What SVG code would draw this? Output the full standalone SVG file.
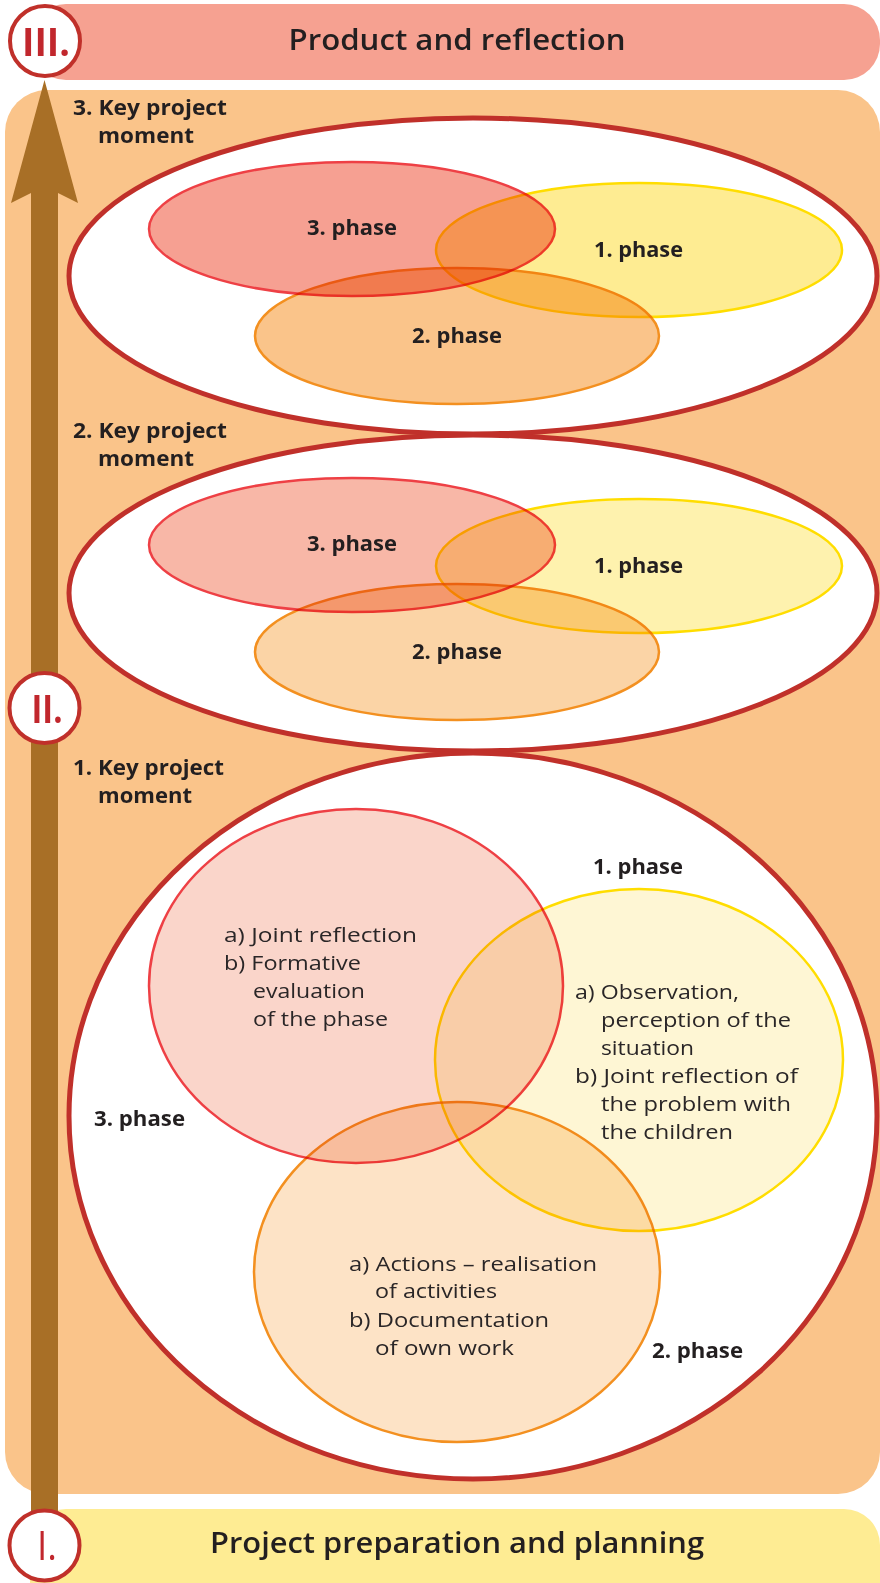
<svg xmlns="http://www.w3.org/2000/svg" width="880" height="1583" viewBox="0 0 880 1583">
<style>
.lbl{font-family:"Open Sans","Liberation Sans",sans-serif;font-weight:700;fill:#231F20}
.head{font-size:29px;font-weight:600;text-anchor:middle}
.km{font-size:21px}
.ph{font-size:21px}
.body{font-family:"Open Sans","Liberation Sans",sans-serif;font-weight:400;font-size:20.5px;fill:#2A2627}
.num{font-family:"Open Sans","Liberation Sans",sans-serif;font-weight:700;font-size:40px;fill:#C1272D;text-anchor:middle}
.big{fill:#FFFFFF;stroke:#C0302A;stroke-width:5}
.ring{fill:#FFFFFF;stroke:#C0302A;stroke-width:4}
.e{mix-blend-mode:multiply}
.r{stroke:#EE4045;stroke-width:2.5}
.y{stroke:#FFDD00;stroke-width:2.5}
.o{stroke:#F39020;stroke-width:2.5}
</style>
<g id="background">
<rect x="5" y="90" width="875" height="1404" rx="42" fill="#FAC48A"/>
<rect x="30" y="4" width="850" height="76" rx="36" fill="#F6A191"/>
<rect x="30" y="1509" width="850" height="140" rx="36" fill="#FEEC93"/>
</g>
<g id="arrow">
<rect x="31" y="190" width="27" height="1330" fill="#A86F26"/>
<polygon points="44.5,80 78,203 58,193 31,193 11,203" fill="#A86F26"/>
</g>
<g id="moment3">
<ellipse class="big" cx="473" cy="276" rx="404" ry="158"/>
<g style="isolation:isolate">
<ellipse class="e r" cx="352" cy="229" rx="203" ry="67" fill="#F6A092"/>
<ellipse class="e y" cx="639" cy="250" rx="203" ry="67" fill="#FEEC92"/>
<ellipse class="e o" cx="457" cy="336" rx="202" ry="68" fill="#FAC48A"/>
</g>
<text class="lbl ph" x="307" y="235" textLength="90" lengthAdjust="spacingAndGlyphs">3. phase</text>
<text class="lbl ph" x="594" y="257" textLength="89" lengthAdjust="spacingAndGlyphs">1. phase</text>
<text class="lbl ph" x="412" y="343" textLength="90" lengthAdjust="spacingAndGlyphs">2. phase</text>
<text class="lbl km" x="73" y="115" textLength="154" lengthAdjust="spacingAndGlyphs">3. Key project</text>
<text class="lbl km" x="98" y="143" textLength="96" lengthAdjust="spacingAndGlyphs">moment</text>
</g>
<g id="moment2">
<ellipse class="big" cx="473" cy="593" rx="404" ry="158"/>
<g style="isolation:isolate">
<ellipse class="e r" cx="352" cy="545" rx="203" ry="67" fill="#F8B7A7"/>
<ellipse class="e y" cx="639" cy="566" rx="203" ry="67" fill="#FEF2AE"/>
<ellipse class="e o" cx="457" cy="652" rx="202" ry="68" fill="#FBD4A6"/>
</g>
<text class="lbl ph" x="307" y="551" textLength="90" lengthAdjust="spacingAndGlyphs">3. phase</text>
<text class="lbl ph" x="594" y="573" textLength="89" lengthAdjust="spacingAndGlyphs">1. phase</text>
<text class="lbl ph" x="412" y="659" textLength="90" lengthAdjust="spacingAndGlyphs">2. phase</text>
<text class="lbl km" x="73" y="438" textLength="154" lengthAdjust="spacingAndGlyphs">2. Key project</text>
<text class="lbl km" x="98" y="466" textLength="96" lengthAdjust="spacingAndGlyphs">moment</text>
</g>
<g id="moment1">
<ellipse class="big" cx="473" cy="1116" rx="404" ry="363"/>
<g style="isolation:isolate">
<ellipse class="e r" cx="356" cy="986" rx="207" ry="177" fill="#FAD5CA"/>
<ellipse class="e y" cx="639" cy="1060" rx="204" ry="171" fill="#FEF6D4"/>
<ellipse class="e o" cx="457" cy="1272" rx="203" ry="170" fill="#FDE3C6"/>
</g>
<text class="lbl ph" x="593" y="874" textLength="90" lengthAdjust="spacingAndGlyphs">1. phase</text>
<text class="lbl ph" x="94" y="1126" textLength="91" lengthAdjust="spacingAndGlyphs">3. phase</text>
<text class="lbl ph" x="652" y="1358" textLength="91" lengthAdjust="spacingAndGlyphs">2. phase</text>
<text class="lbl km" x="73" y="775" textLength="151" lengthAdjust="spacingAndGlyphs">1. Key project</text>
<text class="lbl km" x="98" y="803" textLength="94" lengthAdjust="spacingAndGlyphs">moment</text>
<text class="body" x="224" y="942" textLength="193" lengthAdjust="spacingAndGlyphs">a) Joint reflection</text>
<text class="body" x="224" y="970" textLength="137" lengthAdjust="spacingAndGlyphs">b) Formative</text>
<text class="body" x="253" y="998" textLength="112" lengthAdjust="spacingAndGlyphs">evaluation</text>
<text class="body" x="253" y="1026" textLength="135" lengthAdjust="spacingAndGlyphs">of the phase</text>
<text class="body" x="575" y="999" textLength="164" lengthAdjust="spacingAndGlyphs">a) Observation,</text>
<text class="body" x="601" y="1027" textLength="190" lengthAdjust="spacingAndGlyphs">perception of the</text>
<text class="body" x="601" y="1055" textLength="93" lengthAdjust="spacingAndGlyphs">situation</text>
<text class="body" x="575" y="1083" textLength="223" lengthAdjust="spacingAndGlyphs">b) Joint reflection of</text>
<text class="body" x="601" y="1111" textLength="190" lengthAdjust="spacingAndGlyphs">the problem with</text>
<text class="body" x="601" y="1139" textLength="132" lengthAdjust="spacingAndGlyphs">the children</text>
<text class="body" x="349" y="1271" textLength="248" lengthAdjust="spacingAndGlyphs">a) Actions – realisation</text>
<text class="body" x="375" y="1298" textLength="122" lengthAdjust="spacingAndGlyphs">of activities</text>
<text class="body" x="349" y="1327" textLength="200" lengthAdjust="spacingAndGlyphs">b) Documentation</text>
<text class="body" x="375" y="1355" textLength="139" lengthAdjust="spacingAndGlyphs">of own work</text>
</g>
<g id="stage3">
<text class="lbl head" x="457" y="50" textLength="337" lengthAdjust="spacingAndGlyphs">Product and reflection</text>
<circle class="ring" cx="45" cy="41" r="35"/>
<text class="num" x="46" y="56" textLength="48" lengthAdjust="spacingAndGlyphs">III.</text>
</g>
<g id="stage2">
<circle class="ring" cx="44.5" cy="708" r="35"/>
<text class="num" x="47" y="723" textLength="31" lengthAdjust="spacingAndGlyphs">II.</text>
</g>
<g id="stage1">
<text class="lbl head" x="457" y="1553" textLength="494" lengthAdjust="spacingAndGlyphs">Project preparation and planning</text>
<circle class="ring" cx="44.5" cy="1545.5" r="35"/>
<text class="num" x="47" y="1560" style="font-weight:400" textLength="20" lengthAdjust="spacingAndGlyphs">I.</text>
</g>
</svg>
